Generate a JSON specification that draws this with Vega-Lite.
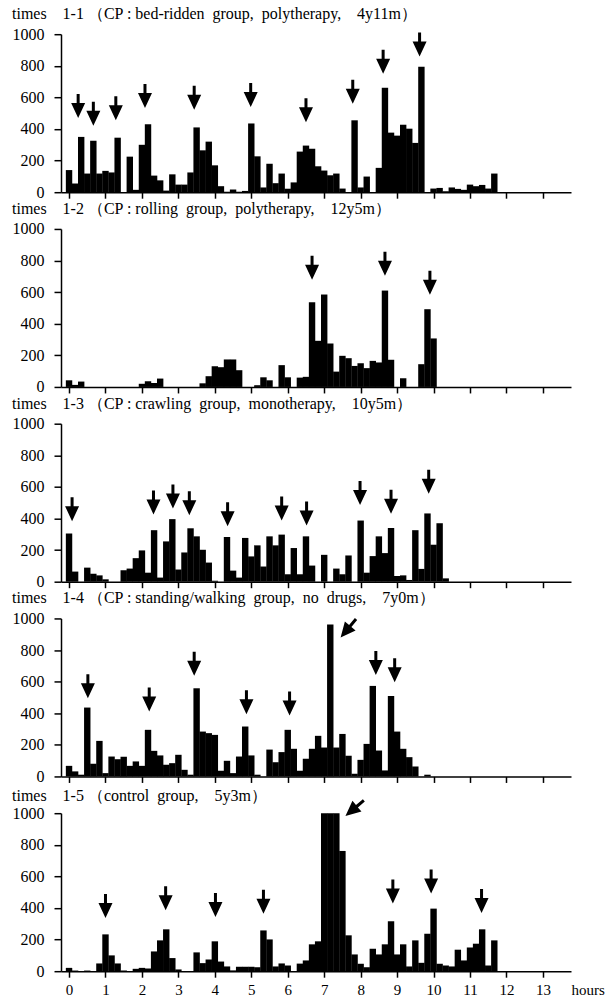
{
"$schema": "https://vega.github.io/schema/vega-lite/v6.json",
"background": "white",
"padding": {"left": 12, "top": 6.2, "right": 0, "bottom": 0},
"spacing": 36.75,
"bounds": "flush",
"config": {
  "view": {"stroke": null},
  "font": "Liberation Serif",
  "axis": {"domainColor": "black", "tickColor": "black", "labelColor": "black", "grid": false, "domainWidth": 1.5, "tickWidth": 1.5, "labelFont": "Liberation Serif", "labelFontSize": 16, "tickSize": 7, "labelPadding": 10, "labelFlush": false, "labelOverlap": false},
  "title": {"anchor": "start", "frame": "bounds", "font": "Liberation Serif", "fontSize": 16, "fontWeight": "normal", "color": "black", "offset": 0}
},
"datasets": {
  "bars": [
{"p":1,"m":0,"n":140},{"p":1,"m":10,"n":55},{"p":1,"m":20,"n":350},{"p":1,"m":30,"n":118},{"p":1,"m":40,"n":325},{"p":1,"m":50,"n":118},{"p":1,"m":60,"n":135},{"p":1,"m":70,"n":125},{"p":1,"m":80,"n":345},{"p":1,"m":100,"n":225},{"p":1,"m":110,"n":15},{"p":1,"m":120,"n":300},{"p":1,"m":130,"n":430},{"p":1,"m":140,"n":105},{"p":1,"m":150,"n":75},{"p":1,"m":160,"n":10},{"p":1,"m":170,"n":113},{"p":1,"m":180,"n":48},{"p":1,"m":190,"n":48},{"p":1,"m":200,"n":125},{"p":1,"m":210,"n":410},{"p":1,"m":220,"n":265},{"p":1,"m":230,"n":320},{"p":1,"m":240,"n":170},{"p":1,"m":250,"n":38},{"p":1,"m":260,"n":3},{"p":1,"m":270,"n":17},{"p":1,"m":280,"n":3},{"p":1,"m":290,"n":8},{"p":1,"m":300,"n":435},{"p":1,"m":310,"n":227},{"p":1,"m":320,"n":30},{"p":1,"m":330,"n":180},{"p":1,"m":340,"n":57},{"p":1,"m":350,"n":118},{"p":1,"m":360,"n":22},{"p":1,"m":370,"n":62},{"p":1,"m":380,"n":257},{"p":1,"m":390,"n":295},{"p":1,"m":400,"n":275},{"p":1,"m":410,"n":164},{"p":1,"m":420,"n":137},{"p":1,"m":430,"n":107},{"p":1,"m":440,"n":118},{"p":1,"m":450,"n":23},{"p":1,"m":470,"n":455},{"p":1,"m":480,"n":30},{"p":1,"m":490,"n":99},{"p":1,"m":510,"n":154},{"p":1,"m":520,"n":661},{"p":1,"m":530,"n":377},{"p":1,"m":540,"n":358},{"p":1,"m":550,"n":427},{"p":1,"m":560,"n":402},{"p":1,"m":570,"n":312},{"p":1,"m":580,"n":794},{"p":1,"m":600,"n":23},{"p":1,"m":610,"n":27},{"p":1,"m":620,"n":6},{"p":1,"m":630,"n":30},{"p":1,"m":640,"n":21},{"p":1,"m":650,"n":15},{"p":1,"m":660,"n":48},{"p":1,"m":670,"n":38},{"p":1,"m":680,"n":46},{"p":1,"m":690,"n":23},{"p":1,"m":700,"n":118},
{"p":2,"m":0,"n":42},{"p":2,"m":10,"n":13},{"p":2,"m":20,"n":34},{"p":2,"m":120,"n":20},{"p":2,"m":130,"n":36},{"p":2,"m":140,"n":25},{"p":2,"m":150,"n":53},{"p":2,"m":220,"n":23},{"p":2,"m":230,"n":68},{"p":2,"m":240,"n":131},{"p":2,"m":250,"n":125},{"p":2,"m":260,"n":174},{"p":2,"m":270,"n":174},{"p":2,"m":280,"n":106},{"p":2,"m":310,"n":11},{"p":2,"m":320,"n":61},{"p":2,"m":330,"n":42},{"p":2,"m":350,"n":138},{"p":2,"m":360,"n":61},{"p":2,"m":380,"n":59},{"p":2,"m":390,"n":64},{"p":2,"m":400,"n":536},{"p":2,"m":410,"n":292},{"p":2,"m":420,"n":585},{"p":2,"m":430,"n":275},{"p":2,"m":440,"n":97},{"p":2,"m":450,"n":197},{"p":2,"m":460,"n":182},{"p":2,"m":470,"n":133},{"p":2,"m":480,"n":150},{"p":2,"m":490,"n":119},{"p":2,"m":500,"n":165},{"p":2,"m":510,"n":155},{"p":2,"m":520,"n":610},{"p":2,"m":530,"n":172},{"p":2,"m":550,"n":55},{"p":2,"m":580,"n":144},{"p":2,"m":590,"n":492},{"p":2,"m":600,"n":307},
{"p":3,"m":0,"n":305},{"p":3,"m":10,"n":64},{"p":3,"m":30,"n":89},{"p":3,"m":40,"n":51},{"p":3,"m":50,"n":40},{"p":3,"m":60,"n":15},{"p":3,"m":90,"n":72},{"p":3,"m":100,"n":83},{"p":3,"m":110,"n":149},{"p":3,"m":120,"n":198},{"p":3,"m":130,"n":57},{"p":3,"m":140,"n":326},{"p":3,"m":150,"n":26},{"p":3,"m":160,"n":255},{"p":3,"m":170,"n":396},{"p":3,"m":180,"n":77},{"p":3,"m":190,"n":185},{"p":3,"m":200,"n":338},{"p":3,"m":210,"n":287},{"p":3,"m":220,"n":202},{"p":3,"m":230,"n":121},{"p":3,"m":240,"n":6},{"p":3,"m":260,"n":283},{"p":3,"m":270,"n":70},{"p":3,"m":280,"n":26},{"p":3,"m":290,"n":277},{"p":3,"m":300,"n":160},{"p":3,"m":310,"n":230},{"p":3,"m":320,"n":96},{"p":3,"m":330,"n":287},{"p":3,"m":340,"n":230},{"p":3,"m":350,"n":298},{"p":3,"m":360,"n":47},{"p":3,"m":370,"n":213},{"p":3,"m":380,"n":47},{"p":3,"m":390,"n":287},{"p":3,"m":400,"n":102},{"p":3,"m":420,"n":170},{"p":3,"m":440,"n":83},{"p":3,"m":450,"n":47},{"p":3,"m":460,"n":166},{"p":3,"m":480,"n":387},{"p":3,"m":490,"n":57},{"p":3,"m":500,"n":162},{"p":3,"m":510,"n":287},{"p":3,"m":520,"n":181},{"p":3,"m":530,"n":340},{"p":3,"m":540,"n":36},{"p":3,"m":550,"n":40},{"p":3,"m":560,"n":11},{"p":3,"m":570,"n":326},{"p":3,"m":580,"n":81},{"p":3,"m":590,"n":432},{"p":3,"m":600,"n":234},{"p":3,"m":610,"n":370},{"p":3,"m":620,"n":21},
{"p":4,"m":0,"n":67},{"p":4,"m":10,"n":32},{"p":4,"m":20,"n":11},{"p":4,"m":30,"n":436},{"p":4,"m":40,"n":80},{"p":4,"m":50,"n":225},{"p":4,"m":60,"n":21},{"p":4,"m":70,"n":126},{"p":4,"m":80,"n":109},{"p":4,"m":90,"n":124},{"p":4,"m":100,"n":67},{"p":4,"m":110,"n":95},{"p":4,"m":120,"n":67},{"p":4,"m":130,"n":295},{"p":4,"m":140,"n":162},{"p":4,"m":150,"n":133},{"p":4,"m":160,"n":74},{"p":4,"m":170,"n":84},{"p":4,"m":180,"n":137},{"p":4,"m":190,"n":42},{"p":4,"m":200,"n":11},{"p":4,"m":210,"n":558},{"p":4,"m":220,"n":284},{"p":4,"m":230,"n":274},{"p":4,"m":240,"n":263},{"p":4,"m":250,"n":36},{"p":4,"m":260,"n":99},{"p":4,"m":270,"n":21},{"p":4,"m":280,"n":126},{"p":4,"m":290,"n":316},{"p":4,"m":300,"n":133},{"p":4,"m":310,"n":11},{"p":4,"m":330,"n":170},{"p":4,"m":340,"n":90},{"p":4,"m":350,"n":154},{"p":4,"m":360,"n":295},{"p":4,"m":370,"n":175},{"p":4,"m":380,"n":36},{"p":4,"m":390,"n":112},{"p":4,"m":400,"n":175},{"p":4,"m":410,"n":257},{"p":4,"m":420,"n":183},{"p":4,"m":430,"n":962},{"p":4,"m":440,"n":183},{"p":4,"m":450,"n":269},{"p":4,"m":460,"n":131},{"p":4,"m":470,"n":17},{"p":4,"m":480,"n":105},{"p":4,"m":490,"n":206},{"p":4,"m":500,"n":573},{"p":4,"m":510,"n":164},{"p":4,"m":520,"n":38},{"p":4,"m":530,"n":509},{"p":4,"m":540,"n":284},{"p":4,"m":550,"n":175},{"p":4,"m":560,"n":122},{"p":4,"m":570,"n":63},{"p":4,"m":590,"n":11},
{"p":5,"m":0,"n":21},{"p":5,"m":10,"n":4},{"p":5,"m":30,"n":4},{"p":5,"m":50,"n":49},{"p":5,"m":60,"n":233},{"p":5,"m":70,"n":100},{"p":5,"m":80,"n":49},{"p":5,"m":90,"n":4},{"p":5,"m":110,"n":15},{"p":5,"m":120,"n":21},{"p":5,"m":130,"n":17},{"p":5,"m":140,"n":125},{"p":5,"m":150,"n":195},{"p":5,"m":160,"n":265},{"p":5,"m":170,"n":83},{"p":5,"m":180,"n":11},{"p":5,"m":210,"n":119},{"p":5,"m":220,"n":51},{"p":5,"m":230,"n":74},{"p":5,"m":240,"n":189},{"p":5,"m":250,"n":61},{"p":5,"m":260,"n":30},{"p":5,"m":270,"n":5},{"p":5,"m":280,"n":28},{"p":5,"m":290,"n":28},{"p":5,"m":300,"n":28},{"p":5,"m":310,"n":25},{"p":5,"m":320,"n":258},{"p":5,"m":330,"n":201},{"p":5,"m":340,"n":30},{"p":5,"m":350,"n":49},{"p":5,"m":360,"n":36},{"p":5,"m":380,"n":48},{"p":5,"m":390,"n":68},{"p":5,"m":400,"n":170},{"p":5,"m":410,"n":189},{"p":5,"m":420,"n":1000},{"p":5,"m":430,"n":1000},{"p":5,"m":440,"n":1000},{"p":5,"m":450,"n":761},{"p":5,"m":460,"n":227},{"p":5,"m":470,"n":106},{"p":5,"m":480,"n":47},{"p":5,"m":490,"n":25},{"p":5,"m":500,"n":142},{"p":5,"m":510,"n":106},{"p":5,"m":520,"n":170},{"p":5,"m":530,"n":316},{"p":5,"m":540,"n":106},{"p":5,"m":550,"n":170},{"p":5,"m":560,"n":30},{"p":5,"m":570,"n":195},{"p":5,"m":580,"n":53},{"p":5,"m":590,"n":237},{"p":5,"m":600,"n":396},{"p":5,"m":610,"n":47},{"p":5,"m":620,"n":36},{"p":5,"m":630,"n":30},{"p":5,"m":640,"n":136},{"p":5,"m":650,"n":68},{"p":5,"m":660,"n":150},{"p":5,"m":670,"n":174},{"p":5,"m":680,"n":265},{"p":5,"m":690,"n":36},{"p":5,"m":700,"n":195}
  ],
  "arrows": [
{"p":1,"m":15,"n":469},{"p":1,"m":40,"n":421},{"p":1,"m":77,"n":455},{"p":1,"m":125,"n":533},{"p":1,"m":206,"n":522},{"p":1,"m":299,"n":539},{"p":1,"m":390,"n":442},{"p":1,"m":467,"n":560},{"p":1,"m":517,"n":749},{"p":1,"m":577,"n":859},
{"p":2,"m":400,"n":678},{"p":2,"m":520,"n":703},{"p":2,"m":594,"n":583},
{"p":3,"m":5,"n":383},{"p":3,"m":139,"n":426},{"p":3,"m":171,"n":464},{"p":3,"m":198,"n":421},{"p":3,"m":261,"n":351},{"p":3,"m":350,"n":387},{"p":3,"m":391,"n":355},{"p":3,"m":479,"n":485},{"p":3,"m":530,"n":430},{"p":3,"m":592,"n":557},
{"p":4,"m":31,"n":495},{"p":4,"m":132,"n":411},{"p":4,"m":206,"n":638},{"p":4,"m":292,"n":394},{"p":4,"m":363,"n":385},{"p":4,"m":505,"n":642},{"p":4,"m":536,"n":596},
{"p":5,"m":60,"n":337},{"p":5,"m":159,"n":386},{"p":5,"m":241,"n":343},{"p":5,"m":320,"n":364},{"p":5,"m":533,"n":428},{"p":5,"m":596,"n":492},{"p":5,"m":679,"n":369}
  ],
  "diag": [
{"p":4,"m":447,"n":880},{"p":5,"m":455,"n":983}
  ]
},
"vconcat": [
{
 "width": 510, "height": 158,
 "title": {"text": "times\u00a0\u00a0\u00a0 1-1\u00a0（CP : bed-ridden\u00a0 group,\u00a0 polytherapy,\u00a0\u00a0\u00a0 4y11m）"},
 "encoding": {
  "x": {"field": "m", "type": "quantitative", "scale": {"domain": [-5, 818], "nice": false, "zero": false}, "axis": {"values": [0,60,120,180,240,300,360,420,480,540,600,660,720,780], "labels": false, "title": null, "tickSize": 6}},
  "y": {"field": "n", "type": "quantitative", "scale": {"domain": [0, 1000], "nice": false}, "axis": {"values": [0,200,400,600,800,1000], "format": "d", "title": null, "labelOverlap": false}}
 },
 "layer": [
  {"data": {"name": "bars"}, "transform": [{"filter": "datum.p == 1"}], "mark": {"type": "bar", "size": 6.4, "color": "black"}},
  {"data": {"name": "arrows"}, "transform": [{"filter": "datum.p == 1"}], "mark": {"type": "point", "shape": "M0,0L-0.7,-1.5L-0.15,-1.5L-0.15,-2.4L0.15,-2.4L0.15,-1.5L0.7,-1.5Z", "size": 400, "filled": true, "color": "black", "opacity": 1}}
 ]
},
{
 "width": 510, "height": 158,
 "title": {"text": "times\u00a0\u00a0\u00a0 1-2\u00a0（CP : rolling\u00a0 group,\u00a0 polytherapy,\u00a0\u00a0\u00a0 12y5m）"},
 "encoding": {
  "x": {"field": "m", "type": "quantitative", "scale": {"domain": [-5, 818], "nice": false, "zero": false}, "axis": {"values": [0,60,120,180,240,300,360,420,480,540,600,660,720,780], "labels": false, "title": null, "tickSize": 6}},
  "y": {"field": "n", "type": "quantitative", "scale": {"domain": [0, 1000], "nice": false}, "axis": {"values": [0,200,400,600,800,1000], "format": "d", "title": null, "labelOverlap": false}}
 },
 "layer": [
  {"data": {"name": "bars"}, "transform": [{"filter": "datum.p == 2"}], "mark": {"type": "bar", "size": 6.4, "color": "black"}},
  {"data": {"name": "arrows"}, "transform": [{"filter": "datum.p == 2"}], "mark": {"type": "point", "shape": "M0,0L-0.7,-1.5L-0.15,-1.5L-0.15,-2.4L0.15,-2.4L0.15,-1.5L0.7,-1.5Z", "size": 400, "filled": true, "color": "black", "opacity": 1}}
 ]
},
{
 "width": 510, "height": 158,
 "title": {"text": "times\u00a0\u00a0\u00a0 1-3\u00a0（CP : crawling\u00a0 group,\u00a0 monotherapy,\u00a0\u00a0\u00a0 10y5m）"},
 "encoding": {
  "x": {"field": "m", "type": "quantitative", "scale": {"domain": [-5, 818], "nice": false, "zero": false}, "axis": {"values": [0,60,120,180,240,300,360,420,480,540,600,660,720,780], "labels": false, "title": null, "tickSize": 6}},
  "y": {"field": "n", "type": "quantitative", "scale": {"domain": [0, 1000], "nice": false}, "axis": {"values": [0,200,400,600,800,1000], "format": "d", "title": null, "labelOverlap": false}}
 },
 "layer": [
  {"data": {"name": "bars"}, "transform": [{"filter": "datum.p == 3"}], "mark": {"type": "bar", "size": 6.4, "color": "black"}},
  {"data": {"name": "arrows"}, "transform": [{"filter": "datum.p == 3"}], "mark": {"type": "point", "shape": "M0,0L-0.7,-1.5L-0.15,-1.5L-0.15,-2.4L0.15,-2.4L0.15,-1.5L0.7,-1.5Z", "size": 400, "filled": true, "color": "black", "opacity": 1}}
 ]
},
{
 "width": 510, "height": 158,
 "title": {"text": "times\u00a0\u00a0\u00a0 1-4\u00a0（CP : standing/walking\u00a0 group,\u00a0 no\u00a0 drugs,\u00a0\u00a0\u00a0 7y0m）"},
 "encoding": {
  "x": {"field": "m", "type": "quantitative", "scale": {"domain": [-5, 818], "nice": false, "zero": false}, "axis": {"values": [0,60,120,180,240,300,360,420,480,540,600,660,720,780], "labels": false, "title": null, "tickSize": 6}},
  "y": {"field": "n", "type": "quantitative", "scale": {"domain": [0, 1000], "nice": false}, "axis": {"values": [0,200,400,600,800,1000], "format": "d", "title": null, "labelOverlap": false}}
 },
 "layer": [
  {"data": {"name": "bars"}, "transform": [{"filter": "datum.p == 4"}], "mark": {"type": "bar", "size": 6.4, "color": "black"}},
  {"data": {"name": "arrows"}, "transform": [{"filter": "datum.p == 4"}], "mark": {"type": "point", "shape": "M0,0L-0.7,-1.5L-0.15,-1.5L-0.15,-2.4L0.15,-2.4L0.15,-1.5L0.7,-1.5Z", "size": 400, "filled": true, "color": "black", "opacity": 1}},
  {"data": {"name": "diag"}, "transform": [{"filter": "datum.p == 4"}], "mark": {"type": "point", "shape": "M0,0L-0.7,-1.5L-0.15,-1.5L-0.15,-2.4L0.15,-2.4L0.15,-1.5L0.7,-1.5Z", "size": 400, "filled": true, "color": "black", "opacity": 1, "angle": 40}}
 ]
},
{
 "width": 510, "height": 158,
 "title": {"text": "times\u00a0\u00a0\u00a0 1-5\u00a0（control\u00a0 group,\u00a0\u00a0\u00a0 5y3m）", "offset": -5},
 "encoding": {
  "x": {"field": "m", "type": "quantitative", "scale": {"domain": [-5, 818], "nice": false, "zero": false}, "axis": {"values": [0,60,120,180,240,300,360,420,480,540,600,660,720,780], "labels": true, "labelOverlap": false, "labelFontSize": 15, "tickSize": 6, "labelPadding": 5, "labelExpr": "datum.value / 60", "title": "hours", "titleX": 510, "titleY": 18, "titleAlign": "left", "titleBaseline": "middle", "titleFontWeight": "normal", "titleFontSize": 15, "titleFont": "Liberation Serif", "titleColor": "black"}},
  "y": {"field": "n", "type": "quantitative", "scale": {"domain": [0, 1000], "nice": false}, "axis": {"values": [0,200,400,600,800,1000], "format": "d", "title": null, "labelOverlap": false}}
 },
 "layer": [
  {"data": {"name": "bars"}, "transform": [{"filter": "datum.p == 5"}], "mark": {"type": "bar", "size": 6.4, "color": "black"}},
  {"data": {"name": "arrows"}, "transform": [{"filter": "datum.p == 5"}], "mark": {"type": "point", "shape": "M0,0L-0.7,-1.5L-0.15,-1.5L-0.15,-2.4L0.15,-2.4L0.15,-1.5L0.7,-1.5Z", "size": 400, "filled": true, "color": "black", "opacity": 1}},
  {"data": {"name": "diag"}, "transform": [{"filter": "datum.p == 5"}], "mark": {"type": "point", "shape": "M0,0L-0.7,-1.5L-0.15,-1.5L-0.15,-2.4L0.15,-2.4L0.15,-1.5L0.7,-1.5Z", "size": 400, "filled": true, "color": "black", "opacity": 1, "angle": 50}}
 ]
}
]
}
